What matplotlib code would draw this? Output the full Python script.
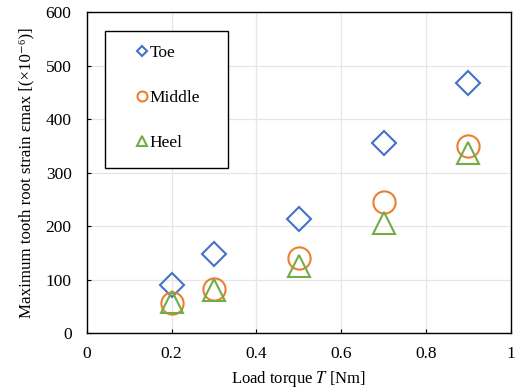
import matplotlib.pyplot as plt
from matplotlib.patches import Rectangle

plt.rcParams['font.family'] = ['Liberation Serif', 'DejaVu Serif']
plt.rcParams['mathtext.fontset'] = 'stix'

# load torque [Nm] and max root strain per tooth position [x10^-6]
torque = [0.2, 0.3, 0.5, 0.7, 0.9]
toe = [90, 147, 214, 355, 467]
middle = [57, 82, 141, 245, 350]
heel = [58, 80, 126, 205, 336]

blue = '#4472C4'
orange = '#ED7D31'
green = '#70AD47'

fig = plt.figure(figsize=(5.17, 3.91), dpi=100)
ax = fig.add_axes([0.168, 0.148, 0.820, 0.821])

ax.plot(torque, toe, linestyle='none', marker='D', markersize=12, markerfacecolor='none',
        markeredgecolor=blue, markeredgewidth=1.5, label='Toe')
ax.plot(torque, middle, linestyle='none', marker='o', markersize=16, markerfacecolor='none',
        markeredgecolor=orange, markeredgewidth=1.5, label='Middle')
ax.plot(torque, heel, linestyle='none', marker='^', markersize=16, markerfacecolor='none',
        markeredgecolor=green, markeredgewidth=1.5, label='Heel')

ax.set_xlim(0, 1)
ax.set_ylim(0, 600)
ax.set_xticks([0, 0.2, 0.4, 0.6, 0.8, 1])
ax.set_xticklabels(['0', '0.2', '0.4', '0.6', '0.8', '1'])
ax.set_yticks(range(0, 601, 100))
ax.grid(color='#e6e6e6', linewidth=0.9)
ax.set_axisbelow(True)
ax.tick_params(direction='in', length=3, labelsize=12.5, colors='black')
ax.tick_params(axis='y', pad=11)
ax.tick_params(axis='x', pad=9)
for sp in ax.spines.values():
    sp.set_color('black')
    sp.set_linewidth(1.0)

ax.set_xlabel('Load torque $T$ [Nm]', fontsize=12, labelpad=5)
ax.set_ylabel('Maximum tooth root strain εmax [(×10⁻⁶)]', fontsize=12.2, labelpad=8)

# legend box drawn separately so its padding can be set freely
ax.add_patch(Rectangle((0.0425, 0.514), 0.29, 0.427, transform=ax.transAxes,
                       facecolor='white', edgecolor='black', linewidth=1.0, zorder=4))
leg = ax.legend(loc='upper left', bbox_to_anchor=(0.1175, 0.897), fontsize=12.5,
                markerscale=0.45, handlelength=0.6, handletextpad=0.16,
                labelspacing=1.64, borderpad=0, borderaxespad=0, frameon=False)
leg.set_zorder(5)

fig.savefig('out.png', dpi=100)
